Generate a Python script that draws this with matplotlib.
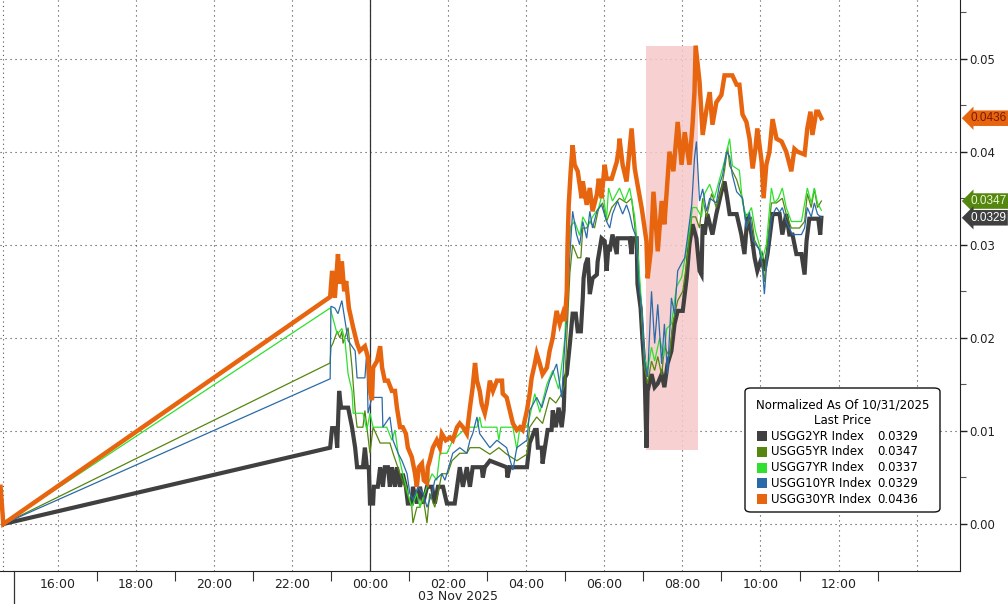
import numpy as np
import matplotlib.pyplot as plt
from matplotlib.patches import FancyBboxPatch, Rectangle

# hours relative to 00:00 on 03 Nov 2025, values normalized to 10/31/2025
usgg2yr = np.array([
    (-9.39, 0.0), (-1.02, 0.0082), (-0.97, 0.0103), (-0.88, 0.0103), (-0.84, 0.0082), (-0.79, 0.0143),
    (-0.74, 0.0125), (-0.56, 0.0125), (-0.46, 0.0104), (-0.38, 0.0082), (-0.33, 0.0061), (-0.18, 0.0061),
    (-0.13, 0.0082), (-0.08, 0.0061), (-0.03, 0.0061), (0.0, 0.0022), (0.08, 0.0022), (0.10, 0.0040),
    (0.20, 0.0040), (0.26, 0.0061), (0.33, 0.0040), (0.38, 0.0061), (0.46, 0.0061), (0.51, 0.0040),
    (0.56, 0.0061), (0.64, 0.0040), (0.69, 0.0061), (0.77, 0.0040), (0.84, 0.0054), (0.92, 0.0040),
    (0.97, 0.0022), (1.07, 0.0022), (1.10, 0.0040), (1.20, 0.0022), (1.28, 0.0040), (1.36, 0.0022),
    (1.46, 0.0040), (1.59, 0.0040), (1.66, 0.0022), (1.74, 0.0040), (1.87, 0.0040), (1.97, 0.0022),
    (2.17, 0.0022), (2.23, 0.0040), (2.30, 0.0061), (2.38, 0.0040), (2.48, 0.0061), (2.56, 0.0040),
    (2.63, 0.0061), (2.86, 0.0061), (2.89, 0.0050), (2.94, 0.0061), (3.07, 0.0068), (3.50, 0.0061),
    (3.52, 0.0050), (3.58, 0.0061), (4.02, 0.0061), (4.09, 0.0087), (4.22, 0.0101), (4.27, 0.0101),
    (4.30, 0.0082), (4.40, 0.0082), (4.42, 0.0065), (4.48, 0.0082), (4.55, 0.0101), (4.65, 0.0101),
    (4.68, 0.0122), (4.76, 0.0104), (4.83, 0.0125), (4.91, 0.0104), (4.96, 0.0122), (4.99, 0.0157),
    (5.04, 0.0161), (5.12, 0.0194), (5.19, 0.0226), (5.27, 0.0226), (5.32, 0.0207), (5.40, 0.0207),
    (5.45, 0.0243), (5.47, 0.0264), (5.52, 0.0279), (5.58, 0.0286), (5.63, 0.0247), (5.70, 0.0264),
    (5.81, 0.0268), (5.83, 0.0282), (5.93, 0.0307), (6.01, 0.0304), (6.06, 0.0272), (6.11, 0.0300),
    (6.14, 0.0293), (6.21, 0.0311), (6.32, 0.0290), (6.34, 0.0307), (6.65, 0.0307), (6.70, 0.0290),
    (6.73, 0.0307), (6.83, 0.0307), (6.85, 0.0258), (6.93, 0.0232), (6.98, 0.0197), (7.03, 0.0168),
    (7.08, 0.0082), (7.11, 0.0143), (7.21, 0.0161), (7.29, 0.0147), (7.37, 0.0151), (7.47, 0.0161),
    (7.54, 0.0147), (7.62, 0.0172), (7.72, 0.0186), (7.80, 0.0215), (7.88, 0.0229), (8.01, 0.0229),
    (8.11, 0.0264), (8.18, 0.0300), (8.26, 0.0322), (8.36, 0.0307), (8.44, 0.0272), (8.49, 0.0268),
    (8.52, 0.0322), (8.57, 0.0311), (8.64, 0.0333), (8.77, 0.0311), (8.87, 0.0333), (9.00, 0.0357),
    (9.08, 0.0368), (9.16, 0.0347), (9.21, 0.0333), (9.39, 0.0333), (9.51, 0.0311), (9.59, 0.0290),
    (9.67, 0.0333), (9.77, 0.0311), (9.85, 0.0286), (9.92, 0.0272), (10.03, 0.0286), (10.10, 0.0272),
    (10.18, 0.0290), (10.31, 0.0333), (10.49, 0.0333), (10.56, 0.0311), (10.66, 0.0333), (10.74, 0.0311),
    (10.82, 0.0311), (10.92, 0.0290), (11.05, 0.0290), (11.13, 0.0268), (11.18, 0.0304), (11.25, 0.0328),
    (11.48, 0.0328), (11.53, 0.0311), (11.56, 0.0329),
])

usgg5yr = np.array([
    (-9.39, 0.0), (-1.02, 0.0173), (-1.00, 0.0190), (-0.95, 0.0194), (-0.84, 0.0207), (-0.77, 0.0200),
    (-0.72, 0.0207), (-0.69, 0.0194), (-0.56, 0.0211), (-0.46, 0.0168), (-0.38, 0.0122), (-0.33, 0.0104),
    (-0.18, 0.0104), (-0.13, 0.0122), (-0.08, 0.0104), (0.0, 0.0076), (0.08, 0.0104), (0.26, 0.0087),
    (0.51, 0.0087), (0.59, 0.0076), (0.77, 0.0054), (0.95, 0.0033), (1.07, 0.0018), (1.10, 0.0001),
    (1.20, 0.0018), (1.28, 0.0018), (1.36, 0.0029), (1.46, 0.0001), (1.53, 0.0033), (1.66, 0.0018),
    (1.74, 0.0033), (1.84, 0.0054), (1.99, 0.0054), (2.10, 0.0068), (2.30, 0.0076), (2.48, 0.0076),
    (2.56, 0.0082), (2.81, 0.0082), (3.07, 0.0075), (3.30, 0.0082), (3.50, 0.0075), (3.76, 0.0068),
    (4.02, 0.0075), (4.09, 0.0104), (4.27, 0.0115), (4.42, 0.0108), (4.60, 0.0136), (4.76, 0.0130),
    (4.91, 0.0140), (4.99, 0.0150), (5.04, 0.0200), (5.12, 0.0270), (5.19, 0.0300), (5.32, 0.0286),
    (5.40, 0.0286), (5.45, 0.0318), (5.55, 0.0318), (5.63, 0.0325), (5.75, 0.0318), (5.86, 0.0340),
    (5.96, 0.0345), (6.06, 0.0325), (6.19, 0.0340), (6.39, 0.0350), (6.57, 0.0345), (6.70, 0.0350),
    (6.78, 0.0320), (6.85, 0.0285), (6.93, 0.0245), (6.98, 0.0215), (7.03, 0.0168), (7.11, 0.0151),
    (7.21, 0.0175), (7.29, 0.0165), (7.37, 0.0180), (7.47, 0.0160), (7.54, 0.0190), (7.67, 0.0180),
    (7.75, 0.0215), (7.88, 0.0240), (8.01, 0.0250), (8.11, 0.0280), (8.24, 0.0330), (8.34, 0.0330),
    (8.44, 0.0318), (8.52, 0.0350), (8.62, 0.0330), (8.75, 0.0355), (8.87, 0.0340), (9.00, 0.0360),
    (9.08, 0.0380), (9.16, 0.0405), (9.21, 0.0385), (9.39, 0.0370), (9.46, 0.0360), (9.54, 0.0350),
    (9.64, 0.0320), (9.77, 0.0330), (9.85, 0.0305), (9.97, 0.0295), (10.05, 0.0280), (10.10, 0.0260),
    (10.18, 0.0300), (10.28, 0.0345), (10.41, 0.0345), (10.56, 0.0350), (10.66, 0.0333), (10.79, 0.0318),
    (11.00, 0.0318), (11.13, 0.0325), (11.20, 0.0355), (11.30, 0.0340), (11.38, 0.0360), (11.46, 0.0340),
    (11.56, 0.0347),
])

usgg7yr = np.array([
    (-9.39, 0.0), (-1.02, 0.0232), (-0.84, 0.0204), (-0.72, 0.0210), (-0.64, 0.0197), (-0.56, 0.0161),
    (-0.46, 0.0143), (-0.43, 0.0119), (-0.18, 0.0119), (-0.08, 0.0101), (0.0, 0.0119), (0.08, 0.0104),
    (0.43, 0.0104), (0.56, 0.0090), (0.64, 0.0101), (0.72, 0.0076), (0.84, 0.0054), (0.97, 0.0033),
    (1.07, 0.0018), (1.20, 0.0033), (1.28, 0.0018), (1.46, 0.0040), (1.59, 0.0054), (1.71, 0.0047),
    (1.79, 0.0076), (1.97, 0.0076), (2.12, 0.0090), (2.30, 0.0097), (2.48, 0.0104), (2.74, 0.0104),
    (2.81, 0.0115), (2.86, 0.0104), (3.25, 0.0104), (3.30, 0.0090), (3.35, 0.0104), (3.66, 0.0104),
    (3.76, 0.0080), (3.84, 0.0104), (4.02, 0.0104), (4.09, 0.0115), (4.22, 0.0140), (4.35, 0.0120),
    (4.53, 0.0150), (4.68, 0.0165), (4.83, 0.0145), (4.94, 0.0180), (4.99, 0.0200), (5.06, 0.0280),
    (5.14, 0.0320), (5.24, 0.0325), (5.37, 0.0310), (5.45, 0.0330), (5.58, 0.0320), (5.70, 0.0330),
    (5.86, 0.0340), (5.96, 0.0357), (6.06, 0.0328), (6.11, 0.0361), (6.21, 0.0347), (6.39, 0.0361),
    (6.52, 0.0347), (6.65, 0.0361), (6.78, 0.0330), (6.85, 0.0300), (6.93, 0.0250), (6.98, 0.0210),
    (7.03, 0.0180), (7.11, 0.0165), (7.21, 0.0190), (7.29, 0.0175), (7.42, 0.0200), (7.52, 0.0180),
    (7.60, 0.0210), (7.72, 0.0215), (7.85, 0.0255), (7.98, 0.0265), (8.13, 0.0300), (8.26, 0.0340),
    (8.36, 0.0340), (8.49, 0.0330), (8.57, 0.0355), (8.70, 0.0365), (8.82, 0.0350), (8.95, 0.0370),
    (9.08, 0.0390), (9.21, 0.0414), (9.28, 0.0385), (9.46, 0.0380), (9.54, 0.0345), (9.64, 0.0330),
    (9.77, 0.0340), (9.87, 0.0315), (9.97, 0.0300), (10.05, 0.0285), (10.15, 0.0300), (10.28, 0.0361),
    (10.36, 0.0345), (10.46, 0.0350), (10.56, 0.0361), (10.66, 0.0340), (10.79, 0.0325), (11.05, 0.0325),
    (11.20, 0.0361), (11.30, 0.0345), (11.38, 0.0361), (11.46, 0.0345), (11.56, 0.0337),
])

usgg10yr = np.array([
    (-9.39, 0.0), (-1.02, 0.0156), (-1.00, 0.0234), (-0.90, 0.0232), (-0.82, 0.0226), (-0.72, 0.0240),
    (-0.56, 0.0197), (-0.38, 0.0186), (-0.33, 0.0157), (-0.13, 0.0157), (-0.08, 0.0186), (-0.05, 0.0119),
    (0.05, 0.0136), (0.31, 0.0136), (0.33, 0.0104), (0.51, 0.0115), (0.59, 0.0090), (0.72, 0.0076),
    (0.82, 0.0068), (0.95, 0.0054), (1.02, 0.0033), (1.10, 0.0026), (1.23, 0.0040), (1.36, 0.0033),
    (1.46, 0.0018), (1.59, 0.0033), (1.66, 0.0047), (1.84, 0.0054), (1.92, 0.0047), (2.12, 0.0076),
    (2.30, 0.0082), (2.48, 0.0076), (2.56, 0.0090), (2.63, 0.0097), (2.74, 0.0115), (2.81, 0.0097),
    (3.07, 0.0082), (3.25, 0.0090), (3.50, 0.0082), (3.66, 0.0058), (3.76, 0.0082), (4.02, 0.0090),
    (4.09, 0.0122), (4.27, 0.0136), (4.40, 0.0125), (4.60, 0.0154), (4.78, 0.0172), (4.91, 0.0136),
    (4.99, 0.0194), (5.04, 0.0222), (5.12, 0.0290), (5.19, 0.0336), (5.29, 0.0311), (5.37, 0.0300),
    (5.45, 0.0325), (5.55, 0.0307), (5.63, 0.0336), (5.70, 0.0318), (5.81, 0.0336), (5.93, 0.0343),
    (6.06, 0.0325), (6.14, 0.0318), (6.21, 0.0333), (6.34, 0.0347), (6.47, 0.0333), (6.57, 0.0343),
    (6.65, 0.0333), (6.73, 0.0318), (6.83, 0.0307), (6.88, 0.0260), (6.96, 0.0230), (7.03, 0.0175),
    (7.11, 0.0158), (7.21, 0.0250), (7.29, 0.0194), (7.37, 0.0236), (7.47, 0.0172), (7.54, 0.0215),
    (7.62, 0.0161), (7.72, 0.0243), (7.80, 0.0225), (7.88, 0.0272), (7.98, 0.0280), (8.06, 0.0286),
    (8.13, 0.0307), (8.24, 0.0343), (8.31, 0.0393), (8.36, 0.0411), (8.44, 0.0347), (8.52, 0.0360),
    (8.62, 0.0336), (8.70, 0.0350), (8.87, 0.0345), (8.95, 0.0365), (9.03, 0.0375), (9.13, 0.0400),
    (9.21, 0.0395), (9.28, 0.0375), (9.39, 0.0357), (9.54, 0.0350), (9.64, 0.0318), (9.72, 0.0335),
    (9.80, 0.0305), (9.97, 0.0295), (10.05, 0.0275), (10.10, 0.0247), (10.18, 0.0290), (10.28, 0.0330),
    (10.41, 0.0340), (10.49, 0.0335), (10.56, 0.0340), (10.66, 0.0325), (10.74, 0.0318), (10.82, 0.0311),
    (11.05, 0.0311), (11.13, 0.0318), (11.20, 0.0340), (11.30, 0.0330), (11.38, 0.0345), (11.46, 0.0333),
    (11.56, 0.0329),
])

usgg30yr = np.array([
    (-9.46, 0.0040), (-9.39, 0.0), (-1.02, 0.0244), (-0.97, 0.0272), (-0.90, 0.0243), (-0.82, 0.0290),
    (-0.77, 0.0258), (-0.72, 0.0282), (-0.66, 0.0250), (-0.61, 0.0261), (-0.54, 0.0232), (-0.43, 0.0211),
    (-0.33, 0.0194), (-0.26, 0.0186), (-0.13, 0.0191), (-0.05, 0.0179), (0.0, 0.0143), (0.05, 0.0133),
    (0.08, 0.0168), (0.18, 0.0175), (0.26, 0.0191), (0.31, 0.0168), (0.38, 0.0154), (0.46, 0.0154),
    (0.56, 0.0143), (0.64, 0.0143), (0.69, 0.0125), (0.77, 0.0104), (0.84, 0.0104), (0.92, 0.0097),
    (0.97, 0.0082), (1.07, 0.0072), (1.15, 0.0055), (1.20, 0.0040), (1.25, 0.0061), (1.33, 0.0065),
    (1.38, 0.0047), (1.46, 0.0044), (1.48, 0.0061), (1.53, 0.0068), (1.61, 0.0082), (1.71, 0.0090),
    (1.79, 0.0082), (1.84, 0.0097), (1.94, 0.0090), (2.05, 0.0093), (2.12, 0.0090), (2.23, 0.0104),
    (2.30, 0.0108), (2.38, 0.0104), (2.48, 0.0097), (2.56, 0.0125), (2.63, 0.0147), (2.69, 0.0173),
    (2.74, 0.0154), (2.81, 0.0143), (2.86, 0.0129), (2.94, 0.0119), (2.99, 0.0129), (3.07, 0.0154),
    (3.15, 0.0143), (3.25, 0.0154), (3.38, 0.0154), (3.40, 0.0140), (3.50, 0.0136), (3.58, 0.0122),
    (3.66, 0.0108), (3.76, 0.0101), (3.84, 0.0104), (3.91, 0.0101), (4.02, 0.0122), (4.09, 0.0140),
    (4.14, 0.0157), (4.22, 0.0172), (4.27, 0.0183), (4.35, 0.0172), (4.42, 0.0161), (4.53, 0.0168),
    (4.60, 0.0186), (4.68, 0.0200), (4.73, 0.0215), (4.78, 0.0229), (4.86, 0.0215), (4.94, 0.0226),
    (4.99, 0.0218), (5.04, 0.0250), (5.06, 0.0300), (5.09, 0.0343), (5.14, 0.0379), (5.19, 0.0407),
    (5.24, 0.0386), (5.32, 0.0379), (5.42, 0.0350), (5.45, 0.0368), (5.55, 0.0343), (5.63, 0.0361),
    (5.70, 0.0336), (5.81, 0.0354), (5.86, 0.0371), (5.93, 0.0350), (6.01, 0.0386), (6.06, 0.0371),
    (6.19, 0.0371), (6.32, 0.0389), (6.37, 0.0403), (6.39, 0.0414), (6.47, 0.0386), (6.57, 0.0368),
    (6.70, 0.0425), (6.78, 0.0382), (6.85, 0.0365), (6.96, 0.0339), (7.08, 0.0304), (7.11, 0.0264),
    (7.19, 0.0293), (7.21, 0.0314), (7.26, 0.0357), (7.37, 0.0293), (7.47, 0.0347), (7.54, 0.0322),
    (7.67, 0.0400), (7.77, 0.0379), (7.88, 0.0432), (7.98, 0.0386), (8.06, 0.0421), (8.18, 0.0386),
    (8.26, 0.0429), (8.31, 0.0464), (8.34, 0.0514), (8.44, 0.0475), (8.52, 0.0418), (8.62, 0.0446),
    (8.70, 0.0464), (8.77, 0.0429), (8.87, 0.0453), (9.00, 0.0461), (9.08, 0.0482), (9.28, 0.0482),
    (9.39, 0.0472), (9.46, 0.0472), (9.54, 0.0440), (9.64, 0.0432), (9.72, 0.0414), (9.80, 0.0382),
    (9.87, 0.0403), (9.92, 0.0425), (10.03, 0.0389), (10.08, 0.0350), (10.15, 0.0386), (10.23, 0.0400),
    (10.31, 0.0435), (10.41, 0.0414), (10.54, 0.0411), (10.66, 0.0400), (10.79, 0.0379), (10.87, 0.0403),
    (10.95, 0.0400), (11.13, 0.0397), (11.20, 0.0425), (11.28, 0.0443), (11.33, 0.0418), (11.43, 0.0443),
    (11.48, 0.0443), (11.56, 0.0436),
])

names = ["USGG2YR Index", "USGG5YR Index", "USGG7YR Index", "USGG10YR Index", "USGG30YR Index"]
last_prices = [0.0329, 0.0347, 0.0337, 0.0329, 0.0436]
colors = ["#404040", "#55860f", "#2fe02f", "#2b6aa8", "#e8650f"]
widths = [3.0, 0.9, 0.9, 0.9, 3.2]
series = [usgg2yr, usgg5yr, usgg7yr, usgg10yr, usgg30yr]

tick_hours = [-8, -6, -4, -2, 0, 2, 4, 6, 8, 10, 12]
tick_labels = ["16:00", "18:00", "20:00", "22:00", "00:00", "02:00", "04:00", "06:00", "08:00", "10:00", "12:00"]

# highlighted window
shade_start, shade_end = 7.06, 8.39
shade_low, shade_high = 0.0080, 0.0514

fig = plt.figure(figsize=(10.08, 6.04), dpi=100)
ax = fig.add_axes([0.0, 33 / 604, 960 / 1008, 571 / 604])
ax.set_xlim(-9.475, 15.11)
ax.set_ylim(-0.00505, 0.0563)

ax.add_patch(Rectangle((shade_start, shade_low), shade_end - shade_start, shade_high - shade_low,
                       facecolor="#f6c9c9", edgecolor="none", alpha=0.85, zorder=1))

# gray first, thin lines, orange on top
for i in [0, 3, 1, 2, 4]:
    d = series[i]
    ax.plot(d[:, 0], d[:, 1], color=colors[i], lw=widths[i], zorder=3 + i, solid_joinstyle="miter")

ax.axvline(0, color="#333333", lw=0.9, zorder=2)
ax.axvline(-9.39, color="#555555", lw=0.8, ls=(0, (1, 3)), zorder=2)
fig.add_artist(plt.Line2D([14 / 1008, 14 / 1008], [0, 33 / 604], color="#333333", lw=0.9))

# axes / ticks
for s in ["left", "top"]:
    ax.spines[s].set_visible(False)
ax.spines["right"].set_color("#222222")
ax.spines["bottom"].set_color("#222222")

ax.yaxis.tick_right()
ax.set_yticks([0.0, 0.01, 0.02, 0.03, 0.04, 0.05])
ax.set_yticks([0.005, 0.015, 0.025, 0.035, 0.045, 0.055], minor=True)
ax.yaxis.set_major_formatter(plt.FormatStrFormatter("%.2f"))
ax.tick_params(axis="y", which="major", length=5, width=1, pad=2, labelsize=8.5, colors="#222222")
ax.tick_params(axis="y", which="minor", length=4, width=0.8, colors="#555555")

ax.set_xticks(tick_hours + [14])
ax.set_xticklabels(tick_labels + [""], family=["Liberation Sans Narrow", "DejaVu Sans"])
ax.set_xticks(np.arange(-7, 15, 2), minor=True)
ax.tick_params(axis="x", which="major", length=0, pad=5, labelsize=9, colors="#222222")
ax.tick_params(axis="x", which="minor", length=7, width=0.8, colors="#333333")

ax.grid(True, which="major", color="#444444", lw=0.8, ls=(0, (1, 3.5)))
ax.set_axisbelow(True)

fig.text(458 / 1008, 1 - 597 / 604, "03 Nov 2025", ha="center", va="center", fontsize=9,
         family=["Liberation Sans Narrow", "DejaVu Sans"], color="#222222")

# last price tags on the axis
tag_text = ["#ffffff", "#e6f5d0", "#ffffff", "#ffffff", "#7a1a00"]
for i in [4, 1, 0]:
    ax.text(1.0105, last_prices[i], f"{last_prices[i]:.4f}", transform=ax.get_yaxis_transform(),
            ha="left", va="center", fontsize=8.5, family=["Liberation Sans", "DejaVu Sans"],
            color=tag_text[i], clip_on=False, zorder=20,
            bbox=dict(boxstyle="larrow,pad=0.15", fc=colors[i], ec="none"))

# legend box
def fx(px):
    return px / 1008


def fy(py):
    return 1 - py / 604


fig.add_artist(FancyBboxPatch((fx(745), fy(512)), fx(940) - fx(745), fy(388) - fy(512),
                              boxstyle="round,pad=0,rounding_size=0.006", fc="white", ec="#111111",
                              lw=1.0, transform=fig.transFigure, zorder=30))
fig.text(fx(843), fy(405), "Normalized As Of 10/31/2025", ha="center", va="center", fontsize=8.5, zorder=31)
fig.text(fx(843), fy(420), "Last Price", ha="center", va="center", fontsize=8.5, zorder=31)
for i, name in enumerate(names):
    yy = 436 + i * 15.8
    fig.add_artist(Rectangle((fx(757), fy(yy + 5)), fx(10), 10 / 604, fc=colors[i], ec="none",
                             transform=fig.transFigure, zorder=31))
    fig.text(fx(771), fy(yy), name, ha="left", va="center", fontsize=8.5, zorder=31)
    fig.text(fx(877), fy(yy), f"{last_prices[i]:.4f}", ha="left", va="center", fontsize=8.5, zorder=31)

fig.savefig("out.png", dpi=100)
